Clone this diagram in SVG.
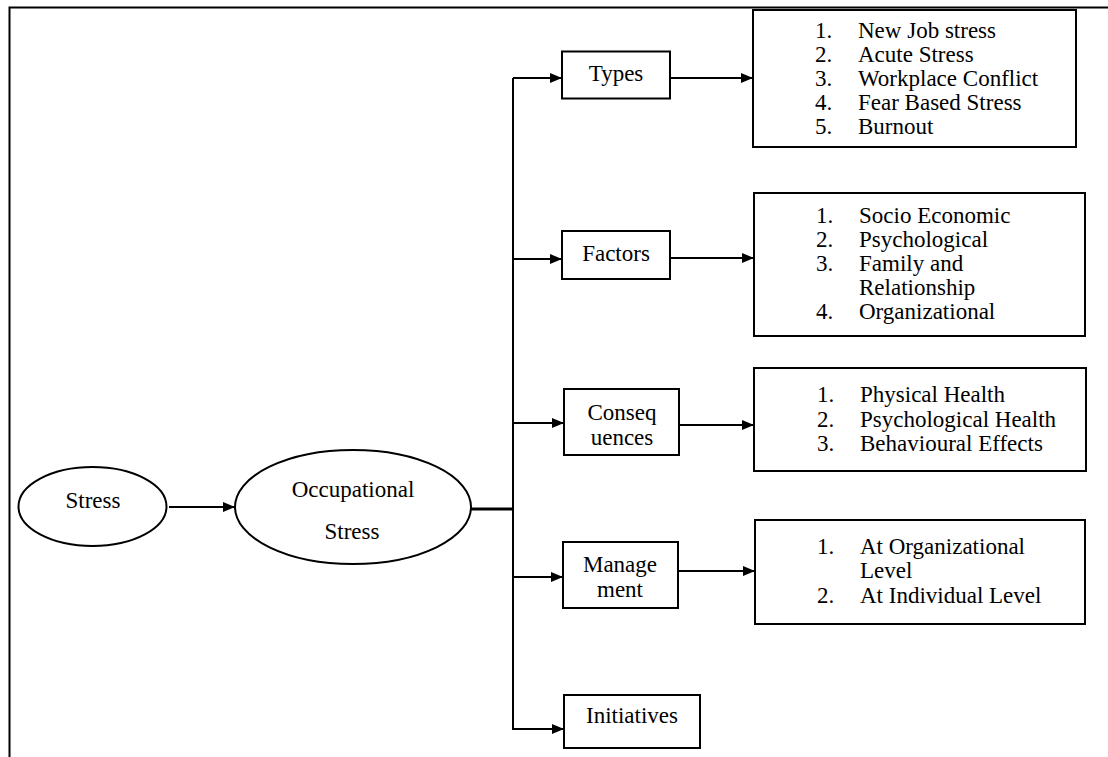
<svg xmlns="http://www.w3.org/2000/svg" width="1108" height="757" viewBox="0 0 1108 757">
<defs>
<style>
text{font-family:"Liberation Serif","Times New Roman",serif;font-size:23px;fill:#000}
.c{text-anchor:middle}
.box{fill:#fff;stroke:#000;stroke-width:2}
.ln{fill:none;stroke:#000;stroke-width:2}
.thick{fill:none;stroke:#000;stroke-width:3}
</style>
<marker id="ah" viewBox="0 0 12 10" refX="12" refY="5" markerWidth="12" markerHeight="10" markerUnits="userSpaceOnUse" orient="auto">
<path d="M0,0 L12,5 L0,10 Z" fill="#000"/>
</marker>
</defs>
<rect width="1108" height="757" fill="#fff"/>
<g id="frame">
<path class="ln" d="M9.5,757 V7.5 H1108"/>
</g>
<g id="connectors">
<path class="ln" d="M169,507 H235" marker-end="url(#ah)"/>
<path class="thick" d="M471,509 H513"/>
<path class="ln" d="M513,78 V730"/>
<path class="ln" d="M513,78 H562" marker-end="url(#ah)"/>
<path class="ln" d="M513,259 H562" marker-end="url(#ah)"/>
<path class="ln" d="M513,423 H564" marker-end="url(#ah)"/>
<path class="ln" d="M513,577 H563" marker-end="url(#ah)"/>
<path class="ln" d="M513,729 H564" marker-end="url(#ah)"/>
<path class="ln" d="M670,78 H753" marker-end="url(#ah)"/>
<path class="ln" d="M670,258 H754" marker-end="url(#ah)"/>
<path class="ln" d="M675,425 H754" marker-end="url(#ah)"/>
<path class="ln" d="M678,571 H755" marker-end="url(#ah)"/>
</g>
<g id="stress">
<ellipse class="box" cx="92.5" cy="506.5" rx="74" ry="39.5"/>
<text class="c" x="93" y="508">Stress</text>
</g>
<g id="occupational">
<ellipse class="box" cx="353" cy="507" rx="118" ry="57"/>
<text class="c" x="353" y="497">Occupational</text>
<text class="c" x="352" y="539">Stress</text>
</g>
<g id="types">
<rect class="box" x="562" y="51.5" width="108" height="47"/>
<text class="c" x="616" y="81">Types</text>
</g>
<g id="types-list">
<rect class="box" x="753" y="10" width="323" height="137"/>
<text x="815" y="38">1.</text><text x="858" y="38">New Job stress</text>
<text x="815" y="62">2.</text><text x="858" y="62">Acute Stress</text>
<text x="815" y="86">3.</text><text x="858" y="86">Workplace Conflict</text>
<text x="815" y="110">4.</text><text x="858" y="110">Fear Based Stress</text>
<text x="815" y="134">5.</text><text x="858" y="134">Burnout</text>
</g>
<g id="factors">
<rect class="box" x="562" y="231" width="108" height="48"/>
<text class="c" x="616" y="261">Factors</text>
</g>
<g id="factors-list">
<rect class="box" x="754" y="193" width="331" height="143"/>
<text x="816" y="223">1.</text><text x="859" y="223">Socio Economic</text>
<text x="816" y="247">2.</text><text x="859" y="247">Psychological</text>
<text x="816" y="271">3.</text><text x="859" y="271">Family and</text>
<text x="859" y="295">Relationship</text>
<text x="816" y="319">4.</text><text x="859" y="319">Organizational</text>
</g>
<g id="consequences">
<rect class="box" x="564" y="389" width="115" height="66"/>
<text class="c" x="622" y="420">Conseq</text>
<text class="c" x="622" y="445">uences</text>
</g>
<g id="consequences-list">
<rect class="box" x="754" y="368" width="332" height="103"/>
<text x="817" y="402">1.</text><text x="860" y="402">Physical Health</text>
<text x="817" y="427">2.</text><text x="860" y="427">Psychological Health</text>
<text x="817" y="451">3.</text><text x="860" y="451">Behavioural Effects</text>
</g>
<g id="management">
<rect class="box" x="563" y="542" width="115" height="66"/>
<text class="c" x="620" y="572">Manage</text>
<text class="c" x="620" y="597">ment</text>
</g>
<g id="management-list">
<rect class="box" x="755" y="520" width="330" height="104"/>
<text x="817" y="554">1.</text><text x="860" y="554">At Organizational</text>
<text x="860" y="578">Level</text>
<text x="817" y="603">2.</text><text x="860" y="603">At Individual Level</text>
</g>
<g id="initiatives">
<rect class="box" x="564" y="695" width="136" height="53"/>
<text class="c" x="632" y="723">Initiatives</text>
</g>
</svg>
